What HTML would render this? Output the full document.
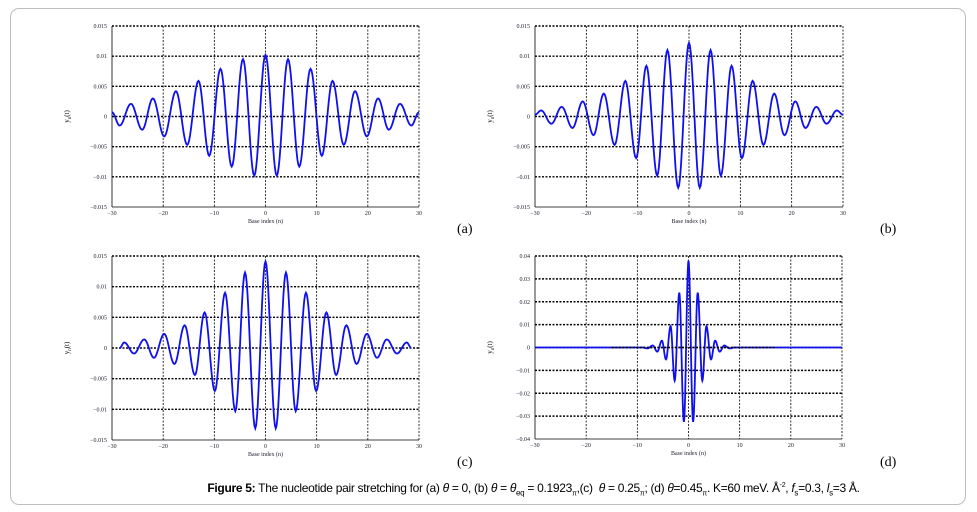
<!DOCTYPE html>
<html><head><meta charset="utf-8">
<style>
html,body{margin:0;padding:0;background:#fff;}
body{width:977px;height:512px;position:relative;overflow:hidden;font-family:"Liberation Sans",sans-serif;}
#frame{position:absolute;left:10px;top:8px;width:956px;height:497px;border:1.5px solid #bdbdbd;border-radius:9px;box-sizing:border-box;}
svg{position:absolute;left:0;top:0;}
#cap{position:absolute;left:45px;width:977px;top:481px;text-align:center;font-size:12px;color:#000;letter-spacing:-0.3px;}
</style></head>
<body>
<div id="frame"></div>
<svg id="chart" width="977" height="512"></svg>
<div id="cap"><b>Figure 5:</b> The nucleotide pair stretching for (a) <i>θ</i> = 0, (b) <i>θ</i> = <i>θ</i><sub style="font-size:8px">eq</sub> = 0.1923<sub style="font-size:7px">π</sub>,(c) &nbsp;<i>θ</i> = 0.25<sub style="font-size:7px">π</sub>; (d) <i>θ</i>=0.45<sub style="font-size:7px">π</sub>. K=60 meV. Å<sup style="font-size:7px">-2</sup>, <i>f</i><sub style="font-size:8px">s</sub>=0.3, <i>l</i><sub style="font-size:8px">s</sub>=3 Å.</div>
<script>
// extrema (positive side, mirrored) : x positions and values
const aX=[0,2.2,4.4,6.6,8.8,11,13.1,15.3,17.5,19.8,22,24.1,26.3,28.5,30];
const aY=[0.0102,-0.0098,0.0095,-0.0083,0.0079,-0.0065,0.0059,-0.0047,0.0042,-0.0033,0.003,-0.0022,0.0021,-0.0015,0.0007];
const bX=[0,2.1,4.2,6.2,8.3,10.3,12.4,14.5,16.6,18.6,20.7,22.7,24.8,26.8,28.8,30];
const bY=[0.0122,-0.0118,0.011,-0.0098,0.0084,-0.0069,0.0059,-0.0047,0.0038,-0.0031,0.0025,-0.0019,0.0016,-0.0012,0.001,0.0003];
const cX=[0,2,4,5.9,7.9,9.9,11.9,13.8,15.8,17.8,19.8,21.8,23.7,25.7,27.6,28.5];
const cY=[0.0141,-0.0131,0.0123,-0.0103,0.009,-0.007,0.0058,-0.0044,0.0037,-0.0026,0.0023,-0.0016,0.0014,-0.0009,0.0009,0];
const dX=[0,0.9,1.8,2.7,3.5,4.4,5.2,6.1,7,8,9,30];
const dY=[0.038,-0.0325,0.024,-0.0145,0.0093,-0.0052,0.003,-0.0018,0.0009,-0.0004,0,0];
const xTicks=[-30,-20,-10,0,10,20,30];
const yTicks1=[-0.015,-0.01,-0.005,0,0.005,0.01,0.015];
const yLabels1=["-0.015","-0.01","-0.005","0","0.005","0.01","0.015"];
const yTicks2=[-0.04,-0.03,-0.02,-0.01,0,0.01,0.02,0.03,0.04];
const yLabels2=["-0.04","-0.03","-0.02","-0.01","0","0.01","0.02","0.03","0.04"];

const NS="http://www.w3.org/2000/svg";
const svg=document.getElementById('chart');
function mk(tag,attrs,parent){const e=document.createElementNS(NS,tag);for(const k in attrs)e.setAttribute(k,attrs[k]);(parent||svg).appendChild(e);return e;}

const panels=[
 {id:'a',L:112,R:419,T:26,B:207,xs:aX,ys:aY,yt:yTicks1,yl:yLabels1,lim:0.015,lab:[457,233]},
 {id:'b',L:535,R:843,T:26,B:207,xs:bX,ys:bY,yt:yTicks1,yl:yLabels1,lim:0.015,lab:[880,233]},
 {id:'c',L:112,R:419,T:256,B:440,xs:cX,ys:cY,yt:yTicks1,yl:yLabels1,lim:0.015,lab:[457,466]},
 {id:'d',L:535,R:842,T:256,B:439,xs:dX,ys:dY,yt:yTicks2,yl:yLabels2,lim:0.04,lab:[880,466]}
];
panels.forEach(p=>{
  const g=mk('g',{});
  
  
  const sx=v=>p.L+(v+30)/60*(p.R-p.L);
  const sy=v=>p.B-(v+p.lim)/(2*p.lim)*(p.B-p.T);
  p.yt.forEach((t,i)=>{
    const y=sy(t);
    const l=mk('line',{x1:p.L,x2:p.R,y1:y,y2:y,stroke:'#000','stroke-width':(i==0)?0.8:1.4,'stroke-dasharray':(i==0)?'none':'2,1.5'},g);
    
    
    const tx=mk('text',{x:p.L-5,y:y+2,'text-anchor':'end','font-size':6,fill:'#223','font-family':'Liberation Serif'},g);
    
    
    tx.textContent=p.yl[i].replace('-','\u2212');
  });
  xTicks.forEach((t,i)=>{
    const x=sx(t);
    const l=mk('line',{x1:x,x2:x,y1:p.T,y2:p.B,stroke:'#000','stroke-width':(i==0)?0.8:0.8,'stroke-dasharray':(i==0)?'none':'2,1.5'},g);
    
    
    const tx=mk('text',{x:x,y:p.B+8,'text-anchor':'middle','font-size':6,fill:'#223','font-family':'Liberation Serif'},g);
    
    
    tx.textContent=String(t).replace('-','\u2212');
  });
  const xt=mk('text',{x:(p.L+p.R)/2,y:p.B+16,'text-anchor':'middle','font-size':6,fill:'#223','font-family':'Liberation Serif','xml:space':'preserve'},g);
  
  
  xt.textContent='Base   index   (n)';
  const yt=mk('text',{x:0,y:0,'text-anchor':'middle','font-size':7,fill:'#000','font-family':'Liberation Serif',transform:`translate(${p.L-43},${(p.T+p.B)/2}) rotate(-90)`},g);
  
  
  yt.innerHTML='y<tspan font-size="5" dy="2">n</tspan><tspan dy="-2">(t)</tspan>';
  const pl=mk('text',{x:p.lab[0],y:p.lab[1],'font-size':14,fill:'#000','font-family':'Liberation Serif'},g);
  
  
  pl.textContent='('+p.id+')';
  const ex=[];
  for(let i=p.xs.length-1;i>0;i--)ex.push([-p.xs[i],p.ys[i]]);
  for(let i=0;i<p.xs.length;i++)ex.push([p.xs[i],p.ys[i]]);
  let pts=[];
  for(let i=0;i<ex.length-1;i++){
    const [x0,y0]=ex[i],[x1,y1]=ex[i+1];
    for(let k=0;k<12;k++){
      const f=k/12, w=(1-Math.cos(Math.PI*f))/2;
      pts.push([x0+(x1-x0)*f,y0+(y1-y0)*w]);
    }
  }
  pts.push(ex[ex.length-1]);
  const d=pts.map((q,i)=>(i?'L':'M')+sx(q[0]).toFixed(2)+','+sy(q[1]).toFixed(2)).join('');
  const path=mk('path',{d:d,fill:'none',stroke:'#1010ee','stroke-width':1.8},g);
  
  
  if(p.id==='d'){
    const z=mk('line',{x1:sx(-15),x2:sx(17),y1:sy(0),y2:sy(0),stroke:'#000','stroke-width':1.6,'stroke-dasharray':'2,1.5'},g);
    
    
  }
});
</script>
</body></html>
